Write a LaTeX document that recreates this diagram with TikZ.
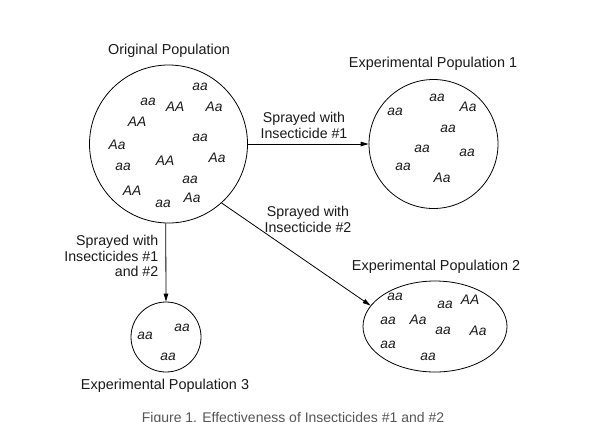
\documentclass[tikz,border=0pt]{standalone}
\usepackage{fontspec}
\setmainfont{Liberation Sans}
\usetikzlibrary{arrows.meta,shapes.geometric}
\definecolor{txt}{HTML}{1A1A1A}
\definecolor{cap}{HTML}{555555}
\begin{document}
\begin{tikzpicture}[x=1pt,y=-1pt,
  pop/.style={draw=black,line width=0.8pt,inner sep=0pt},
  geno/.style={inner sep=0pt,text=txt,font=\fontsize{13.8}{14}\selectfont\itshape},
  title/.style={inner sep=0pt,text=txt,font=\fontsize{14.4}{16}\selectfont},
  lab/.style={inner sep=0pt,text=txt,font=\fontsize{14.2}{15.5}\selectfont,align=center},
  arr/.style={line width=0.8pt,-{Triangle[length=8pt,width=4.5pt]}}]
\useasboundingbox (0,0) rectangle (596,421);
\clip (0,0) rectangle (596,421);
\fill[white] (0,0) rectangle (596,421);

% populations
\node[pop,circle,minimum size=158pt] (orig) at (168.5,144) {};
\node[pop,circle,minimum size=129pt] (p1) at (433.5,144) {};
\node[pop,ellipse,minimum width=144pt,minimum height=91pt] (p2) at (435,326.5) {};
\node[pop,circle,minimum size=70pt] (p3) at (166,337) {};

% titles
\node[title] (t0) at (169,51) {Original Population};
\node[title] (t1) at (433,63.5) {Experimental Population 1};
\node[title] (t2) at (436,266.5) {Experimental Population 2};
\node[title] (t3) at (165,385.5) {Experimental Population 3};

% original genotypes
\node[geno] (o1) at (200,87) {aa};
\node[geno] (o2) at (148,102) {aa};
\node[geno] (o3) at (175,106.5) {AA};
\node[geno] (o4) at (214,106.5) {Aa};
\node[geno] (o5) at (137,122) {AA};
\node[geno] (o6) at (200,137.5) {aa};
\node[geno] (o7) at (117,145) {Aa};
\node[geno] (o8) at (165,161) {AA};
\node[geno] (o9) at (217,158) {Aa};
\node[geno] (o10) at (123,166.5) {aa};
\node[geno] (o11) at (190,179.5) {aa};
\node[geno] (o12) at (132,191) {AA};
\node[geno] (o13) at (192,198) {Aa};
\node[geno] (o14) at (163,204) {aa};

% population 1 genotypes
\node[geno] (a1) at (437,98) {aa};
\node[geno] (a2) at (468,107) {Aa};
\node[geno] (a3) at (395,112) {aa};
\node[geno] (a4) at (448,129) {aa};
\node[geno] (a5) at (422,149) {aa};
\node[geno] (a6) at (467,153) {aa};
\node[geno] (a7) at (403,167) {aa};
\node[geno] (a8) at (442,178) {Aa};

% population 2 genotypes
\node[geno] (b1) at (395,297) {aa};
\node[geno] (b2) at (445,305) {aa};
\node[geno] (b3) at (470,299.5) {AA};
\node[geno] (b4) at (388,321) {aa};
\node[geno] (b5) at (418,320) {Aa};
\node[geno] (b6) at (443,331) {aa};
\node[geno] (b7) at (478,331) {Aa};
\node[geno] (b8) at (388,345) {aa};
\node[geno] (b9) at (428,357) {aa};

% population 3 genotypes
\node[geno] (c1) at (145,336) {aa};
\node[geno] (c2) at (182,328) {aa};
\node[geno] (c3) at (168,357) {aa};

% connectors
\draw[arr] (orig.east) -- (p1.west);
\draw[arr] (orig.-48) -- (p2.162);
\draw[arr] (orig.-92) -- (p3.north);

% connector labels
\node[lab] (l1) at (304,125.5) {Sprayed with\\Insecticide \#1};
\node[lab] (l2) at (308,219.5) {Sprayed with\\Insecticide \#2};
\node[lab,align=right,anchor=east] (l3) at (158.5,256) {Sprayed with\\Insecticides \#1\\and \#2};

% caption (cut off by the frame, as in the reference)
\node[inner sep=0pt,anchor=base,text=cap,font=\fontsize{14}{16}\selectfont] (capt) at (293,422.5) {Figure 1. Effectiveness of Insecticides \#1 and \#2};
\end{tikzpicture}
\end{document}
